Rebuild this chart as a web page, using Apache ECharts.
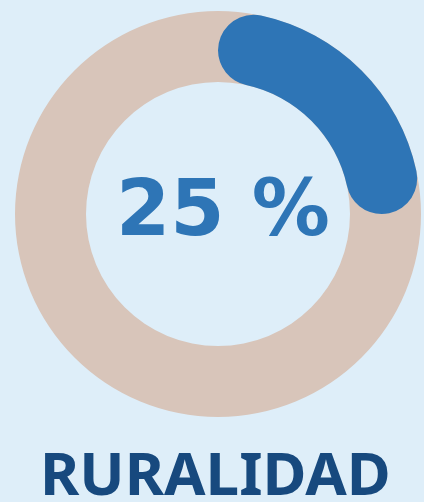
<!DOCTYPE html>
<html>
<head>
<meta charset="utf-8">
<script src="https://cdn.jsdelivr.net/npm/echarts@6/dist/echarts.min.js"></script>
<style>
  html, body { margin: 0; padding: 0; background: #deeef9; }
  #ruralidad { width: 424px; height: 502px; }
</style>
</head>
<body>
<div id="ruralidad"></div>
<script>
var indicador = 'RURALIDAD';
var porcentaje = 25;
var resto = 100 - porcentaje;

var ruralidadChart = echarts.init(document.getElementById('ruralidad'));

option = {
    backgroundColor: '#deeef9',
    animation: false,
    graphic: [{
        type: 'text',
        left: 116,
        top: 176,
        style: {
            text: porcentaje + ' %',
            font: 'bold 78px "DejaVu Sans"',
            fill: '#2e75b6'
        }
    }, {
        type: 'text',
        left: 40,
        top: 448,
        style: {
            text: indicador,
            font: 'bold 60px "Noto Sans"',
            fill: '#17497e'
        }
    }],
    series: [{
        // anillo de fondo
        type: 'pie',
        center: [218, 214],
        radius: [132, 203],
        silent: true,
        label: { show: false },
        itemStyle: { color: '#d8c5ba' },
        data: [{ value: 100 }]
    }, {
        type: 'pie',
        center: [218, 214],
        radius: [132, 203],
        startAngle: 90,
        clockwise: true,
        silent: true,
        label: { show: false },
        data: [{
            value: porcentaje,
            itemStyle: { color: '#2e75b6', borderRadius: 36 }
        }, {
            value: resto,
            itemStyle: { color: 'rgba(0,0,0,0)' }
        }]
    }]
};
ruralidadChart.setOption(option);
window.addEventListener('resize', ruralidadChart.resize);
</script>
</body>
</html>
